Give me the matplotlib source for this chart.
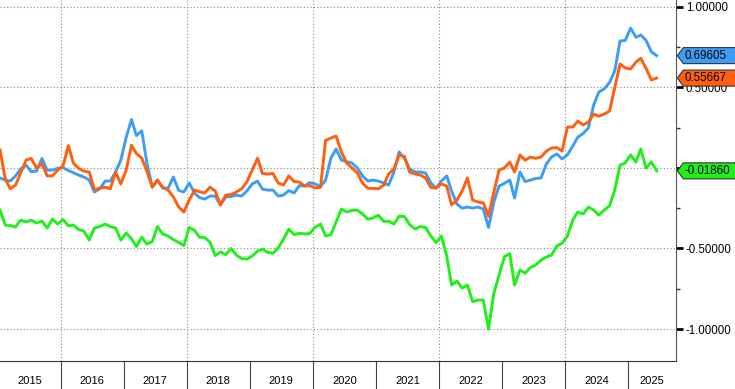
import numpy as np
import pandas as pd
import matplotlib
matplotlib.use('Agg')
from matplotlib import pyplot as plt
import matplotlib.dates as mdates
from matplotlib.transforms import blended_transform_factory
from matplotlib.patches import Polygon

plt.rcParams['font.family'] = ['Liberation Sans', 'DejaVu Sans']

# monthly readings, Jan 2015 .. Jun 2025
dates = pd.date_range('2015-01-01', '2025-06-01', freq='MS') + pd.Timedelta(days=14)

blue = [-0.063, -0.076, -0.082, -0.05, -0.007, 0.017, -0.024, -0.02, 0.058, -0.014, -0.014, -0.003,
        0.002, -0.017, -0.03, -0.045, -0.057, -0.076, -0.15, -0.13, -0.082, -0.082, -0.026, 0.048,
        0.19, 0.30, 0.20, 0.23, 0.03, -0.12, -0.076, -0.126, -0.126, -0.057, -0.14, -0.15,
        -0.094, -0.156, -0.184, -0.194, -0.175, -0.175, -0.23, -0.18, -0.178, -0.169, -0.175, -0.144,
        -0.10, -0.082, -0.132, -0.138, -0.138, -0.175, -0.169, -0.141, -0.156, -0.11, -0.113, -0.091,
        -0.10, -0.116, -0.076, 0.06, 0.117, 0.048, 0.038, 0.03, -0.001, -0.05, -0.082, -0.076,
        -0.082, -0.094, -0.107, -0.026, 0.098, 0.06, -0.007, -0.026, -0.026, -0.032, -0.094, -0.126,
        -0.082, -0.05, -0.144, -0.225, -0.25, -0.243, -0.25, -0.243, -0.256, -0.37, -0.212, -0.113,
        -0.096, -0.076, -0.187, -0.026, -0.085, -0.076, -0.066, -0.063, 0.024, 0.067, 0.086, 0.055,
        0.08, 0.135, 0.19, 0.213, 0.247, 0.39, 0.47, 0.49, 0.53, 0.60, 0.787, 0.79,
        0.867, 0.81, 0.824, 0.79, 0.72, 0.69605]

orange = [0.11, -0.07, -0.13, -0.107, -0.032, 0.048, 0.058, -0.001, 0.027, -0.05, -0.05, -0.014,
          0.011, 0.138, 0.03, -0.004, -0.02, -0.026, -0.135, -0.126, -0.12, -0.13, -0.026, -0.10,
          -0.014, 0.14, 0.089, 0.06, -0.02, -0.12, -0.076, -0.12, -0.138, -0.18, -0.243, -0.274,
          -0.20, -0.138, -0.148, -0.156, -0.12, -0.144, -0.23, -0.169, -0.166, -0.15, -0.13, -0.088,
          -0.014, 0.06, -0.035, -0.038, -0.035, -0.094, -0.107, -0.05, -0.085, -0.088, -0.113, -0.11,
          -0.125, -0.12, 0.17, 0.185, 0.197, 0.098, 0.03, -0.001, -0.032, -0.094, -0.127, -0.127,
          -0.13, -0.107, -0.038, -0.007, 0.08, 0.07, -0.026, -0.038, -0.045, -0.063, -0.122, -0.125,
          -0.10, -0.113, -0.23, -0.20, -0.144, -0.063, -0.20, -0.212, -0.218, -0.30, -0.15, -0.014,
          -0.001, 0.036, -0.026, 0.08, 0.048, 0.067, 0.059, 0.067, 0.104, 0.123, 0.126, 0.104,
          0.253, 0.253, 0.29, 0.266, 0.284, 0.334, 0.32, 0.334, 0.352, 0.495, 0.644, 0.62,
          0.613, 0.656, 0.68, 0.616, 0.545, 0.55667]

green = [-0.262, -0.355, -0.358, -0.367, -0.324, -0.336, -0.324, -0.342, -0.33, -0.373, -0.318, -0.349,
         -0.32, -0.36, -0.355, -0.383, -0.392, -0.448, -0.373, -0.364, -0.349, -0.364, -0.373, -0.448,
         -0.404, -0.44, -0.488, -0.43, -0.473, -0.457, -0.364, -0.41, -0.423, -0.445, -0.463, -0.482,
         -0.37, -0.386, -0.43, -0.432, -0.46, -0.544, -0.522, -0.538, -0.50, -0.541, -0.563, -0.566,
         -0.547, -0.516, -0.504, -0.525, -0.529, -0.497, -0.442, -0.38, -0.414, -0.406, -0.41, -0.407,
         -0.367, -0.349, -0.423, -0.414, -0.336, -0.255, -0.274, -0.264, -0.262, -0.286, -0.318, -0.311,
         -0.293, -0.333, -0.33, -0.349, -0.30, -0.302, -0.352, -0.38, -0.364, -0.37, -0.423, -0.463,
         -0.423, -0.547, -0.727, -0.702, -0.746, -0.727, -0.83, -0.82, -0.82, -1.0, -0.777, -0.665,
         -0.551, -0.532, -0.727, -0.634, -0.653, -0.618, -0.603, -0.572, -0.553, -0.541, -0.485, -0.467,
         -0.423, -0.324, -0.274, -0.286, -0.243, -0.262, -0.293, -0.262, -0.236, -0.138, 0.017, 0.03,
         0.08, 0.036, 0.117, -0.001, 0.036, -0.0186]

years = list(range(2015, 2026))
yticks = [-1.0, -0.5, 0.0, 0.5, 1.0]
# the 0 label sits under the green last-value tag in the original
ylabels = ['-1.00000', '-0.50000', '', '0.50000', '1.00000']

c_blue = '#3d9df5'
c_orange = '#ff5f0f'
c_green = '#1ff01a'

fig = plt.figure(figsize=(7.35, 3.89), dpi=100)
ax = fig.add_axes([0.0, 28/389, 676/735, 361/389])

ax.plot(dates, green, color=c_green, lw=2.1)
ax.plot(dates, blue, color=c_blue, lw=2.1)
ax.plot(dates, orange, color=c_orange, lw=2.1)

xmin = pd.Timestamp('2015-01-15')
xmax = pd.Timestamp('2025-10-05')
ax.set_xlim(xmin, xmax)
ax.set_ylim(-1.198, 1.041)

# grid
for v in yticks:
    ax.axhline(v, color='#8a8a8a', lw=0.8, ls=(0, (1, 2)), zorder=0)
for yr in [2016, 2018, 2020, 2022, 2024]:
    ax.axvline(pd.Timestamp(f'{yr}-01-01'), color='#8a8a8a', lw=0.8, ls=(0, (1, 2)), zorder=0)

for s in ['top', 'left']:
    ax.spines[s].set_visible(False)
ax.spines['right'].set_color('#555555')
ax.spines['bottom'].set_color('#333333')

ax.set_xticks([])
ax.yaxis.tick_right()
ax.set_yticks(yticks)
ax.set_yticklabels(ylabels)
ax.set_yticks([-0.75, -0.25, 0.25, 0.75], minor=True)
ax.tick_params(axis='y', which='major', length=5, width=2, pad=2, labelsize=8.3, colors='black')
ax.tick_params(axis='y', which='minor', length=3, width=1, colors='#333333')

# year band below the plot
tr = blended_transform_factory(ax.transData, ax.transAxes)
for yr in years[1:]:
    ax.plot([pd.Timestamp(f'{yr}-01-01')] * 2, [0, -28/361], transform=tr,
            color='#444444', lw=0.8, clip_on=False)
for yr in years:
    a = max(pd.Timestamp(f'{yr}-01-01'), xmin)
    b = min(pd.Timestamp(f'{yr + 1}-01-01'), xmax)
    mid = a + (b - a) / 2
    ax.text(mid, -20/361, str(yr), transform=tr, ha='center', va='center', fontsize=8)

# last value tags on the right
tr2 = blended_transform_factory(ax.transAxes, ax.transData)
h = 8 / 161.2
for val, col in [(blue[-1], c_blue), (orange[-1], c_orange), (green[-1], c_green)]:
    x0 = 1.002
    x1 = x0 + 6/676
    x2 = 1.1
    poly = Polygon([(x0, val), (x1, val + h), (x2, val + h), (x2, val - h), (x1, val - h)],
                   closed=True, transform=tr2, facecolor=col, edgecolor='#333333', lw=0.8,
                   clip_on=False, zorder=5)
    ax.add_patch(poly)
    ax.text(x1 + 1/676, val, f'{val:.5f}', transform=tr2, ha='left', va='center',
            fontsize=8.3, color='black', zorder=6)

fig.savefig('out.png', dpi=100)
